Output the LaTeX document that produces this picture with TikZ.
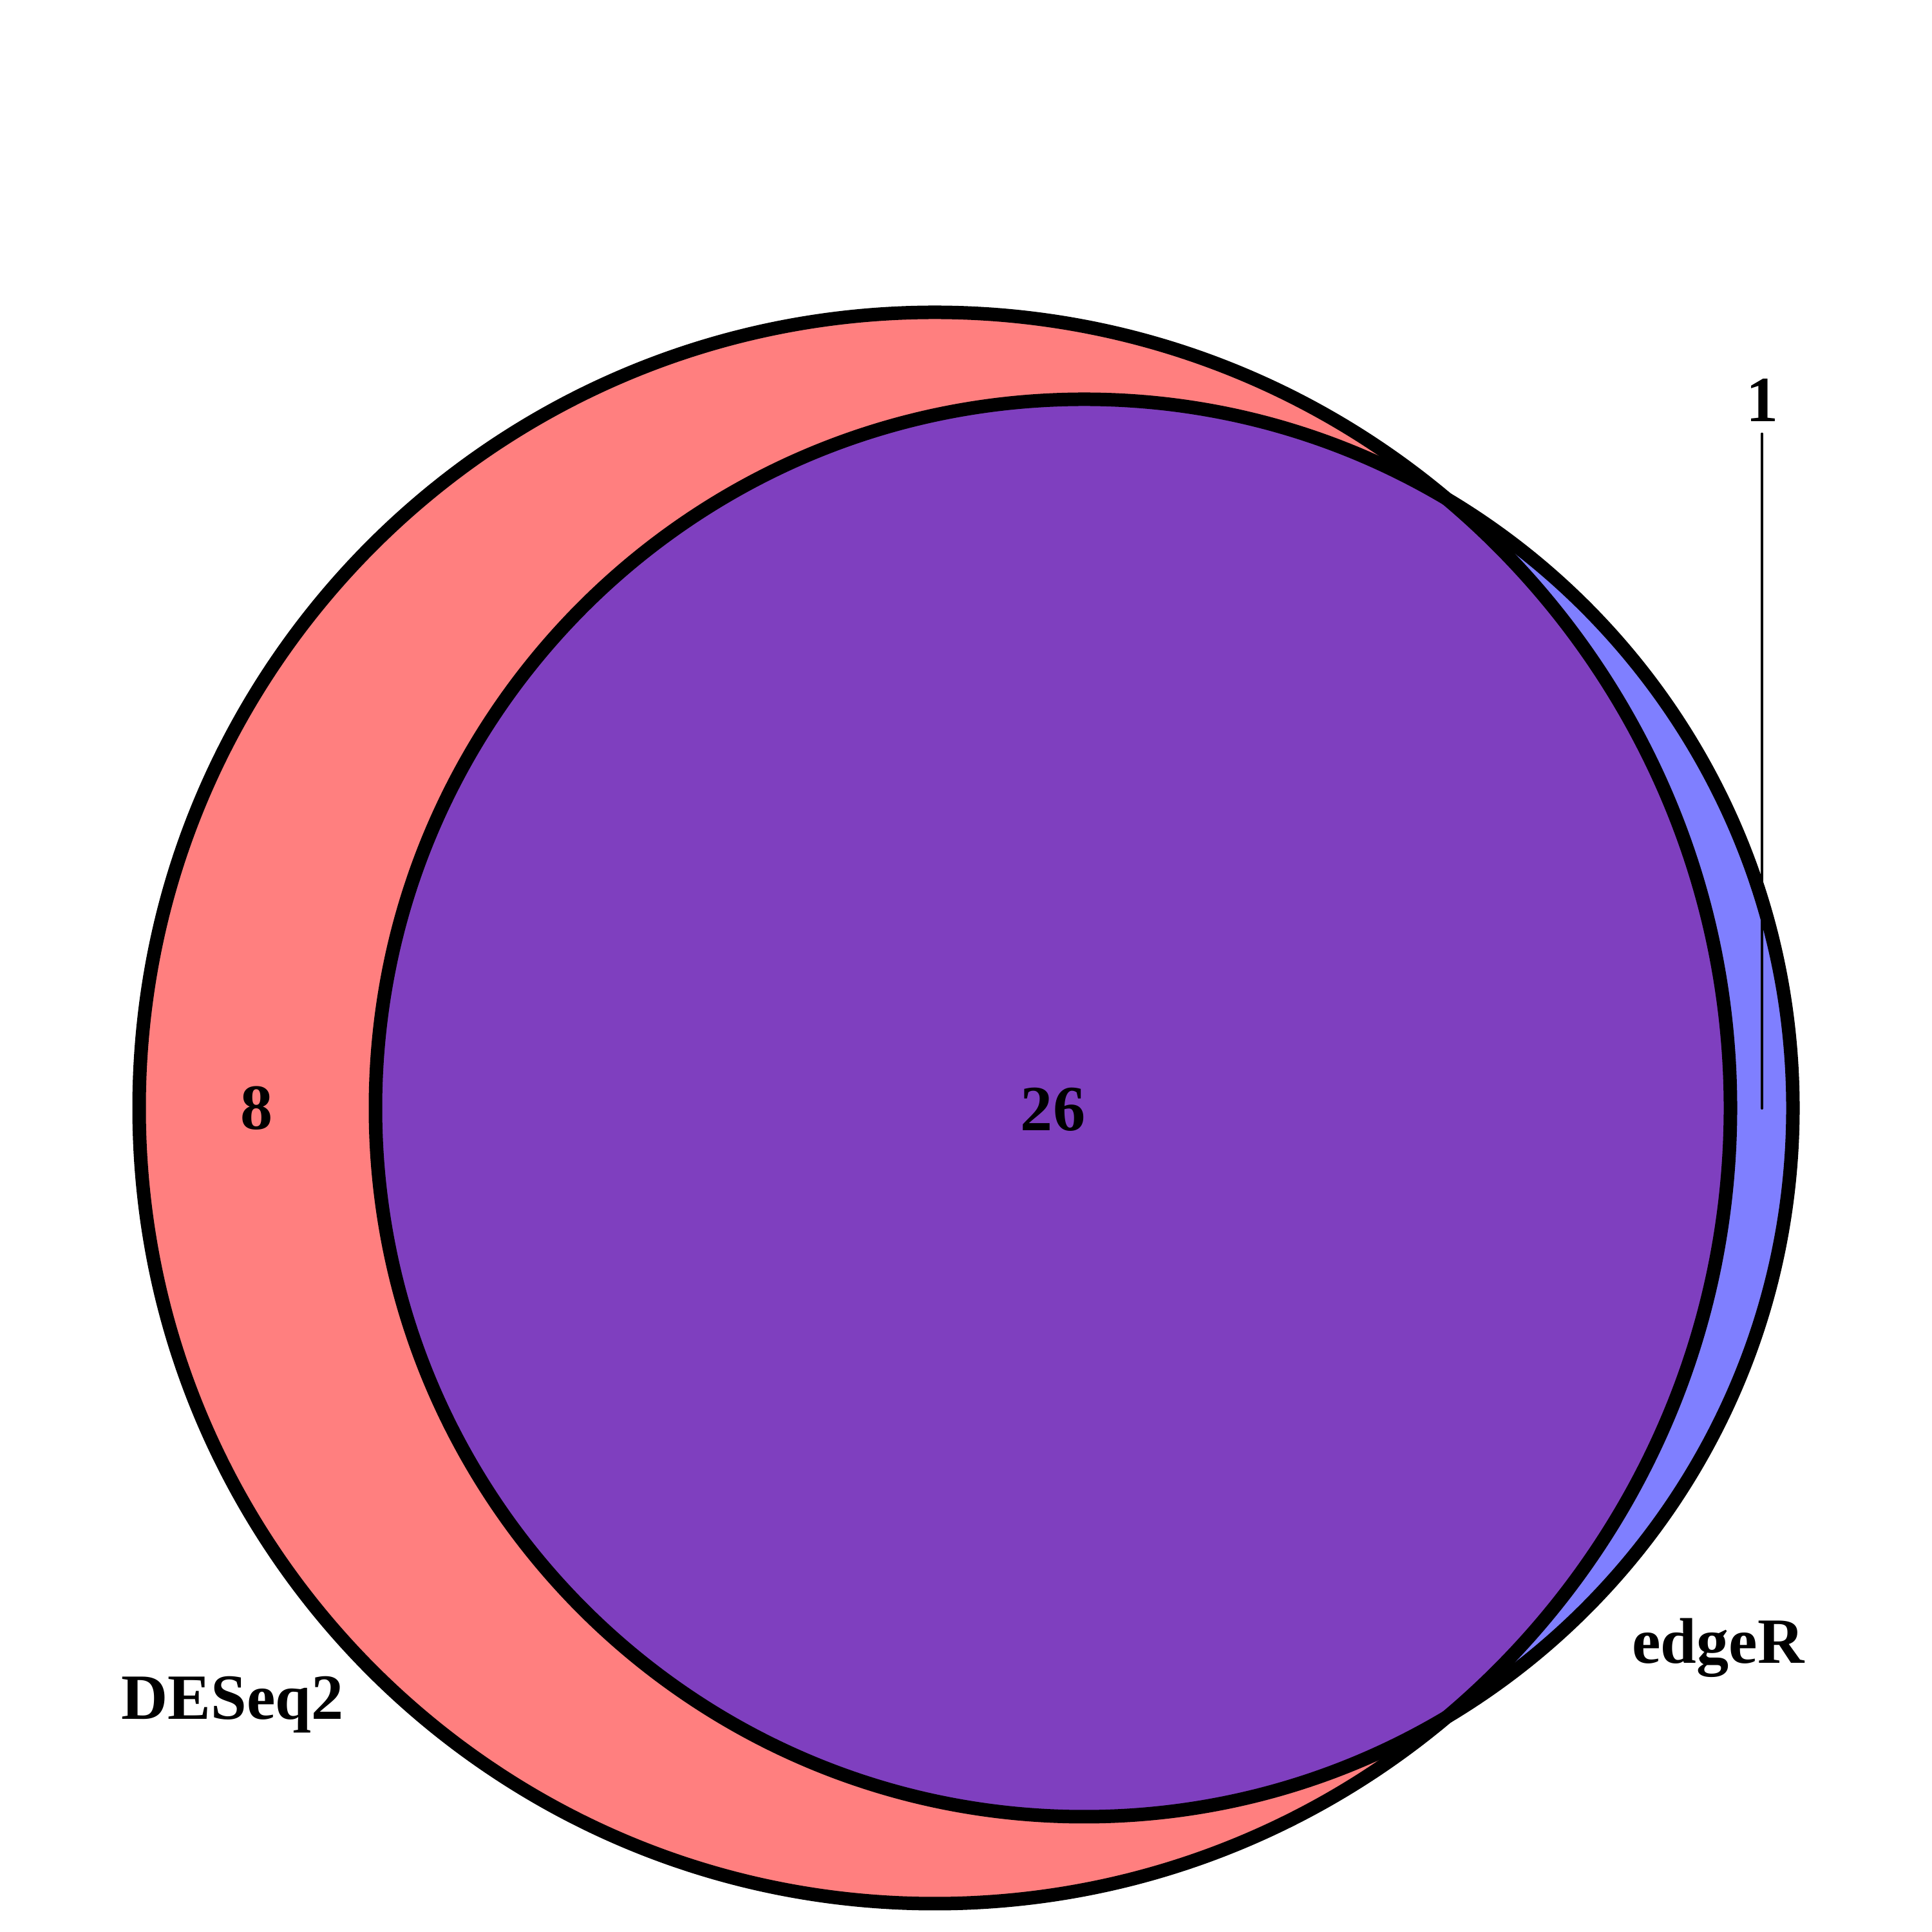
\documentclass[tikz,border=0pt]{standalone}
\usepackage{fontspec}
\setmainfont{Liberation Serif}
\usepackage{tikz}
\usetikzlibrary{positioning}

\begin{document}
\begin{tikzpicture}[font=\fontsize{28.5}{34}\selectfont\bfseries,
      ring/.style={draw=black, line width=0.21cm},
      cnt/.style={anchor=base, inner sep=0pt},
      setname/.style={anchor=base, inner sep=0pt}]
    \useasboundingbox (0,0) rectangle (30,30);
    \coordinate (cd) at (14.515,12.795);
    \coordinate (ce) at (16.835,12.795);
    % fills first, outlines on top
    \fill[red, fill opacity=0.5] (cd) circle[radius=12.355];
    \fill[blue, fill opacity=0.5] (ce) circle[radius=11.005];
    \draw[ring] (cd) circle[radius=12.355];
    \draw[ring] (ce) circle[radius=11.005];
    \node[cnt] (only-d) at (3.99,12.46)  {8};
    \node[cnt] (both)   at (16.35,12.44) {26};
    \node[cnt] (only-e) at (27.36,23.45) {1};
    \coordinate (only-e-pt) at (27.36,12.79);
    \draw[line width=0.04cm, line cap=round, shorten <=1.8mm] (only-e) -- (only-e-pt);
    \node[setname] (deseq) at (3.61,3.30) {DESeq2};
    \node[setname] (edger) at (26.68,4.17) {edgeR};
  \end{tikzpicture}
\end{document}
